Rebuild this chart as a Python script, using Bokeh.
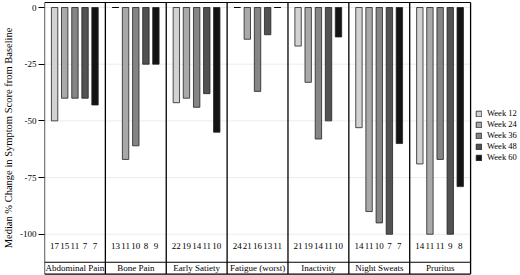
from bokeh.plotting import figure
from bokeh.models import (ColumnDataSource, FixedTicker, Legend, LegendItem)
from bokeh.core.properties import value
from bokeh.embed import file_html
from bokeh.resources import INLINE

categories = ["Abdominal Pain", "Bone Pain", "Early Satiety", "Fatigue (worst)",
              "Inactivity", "Night Sweats", "Pruritus"]
weeks = ["Week 12", "Week 24", "Week 36", "Week 48", "Week 60"]
week12 = [-50, 0, -42, 0, -17, -53, -69]
week24 = [-40, -67, -40, -14, -33, -90, -100]
week36 = [-40, -61, -44, -37, -58, -95, -67]
week48 = [-40, -25, -38, -12, -50, -100, -100]
week60 = [-43, -25, -55, 0, -13, -60, -79]
n12 = [17, 13, 22, 24, 21, 14, 14]
n24 = [15, 11, 19, 21, 19, 11, 11]
n36 = [11, 10, 14, 16, 14, 10, 11]
n48 = [7, 8, 11, 13, 11, 7, 9]
n60 = [7, 9, 10, 11, 10, 7, 8]
y_ticks = [0, -25, -50, -75, -100]

series = [week12, week24, week36, week48, week60]
counts = [n12, n24, n36, n48, n60]
colors = ["#d2d2d2", "#a9a9a9", "#858585", "#525252", "#141414"]
offsets = [-0.334, -0.168, 0.0, 0.166, 0.33]
bar_w = 0.105
FONT = "Liberation Serif"
COUNT_Y = -105.2
STRIP_LINE = -112.35
STRIP_TEXT = -115.0
BOX_TOP = 2.2
BOX_BOTTOM = -117.55

n_cat = len(categories)
centers = [i + 0.5 for i in range(n_cat)]

p = figure(width=520, height=275, x_range=(0, 7.82),
           y_range=(-118.2, 3.09), output_backend="svg",
           toolbar_location=None, min_border_top=0, min_border_bottom=0,
           min_border_left=0, min_border_right=0)
p.outline_line_color = None
p.xaxis.visible = False
p.xgrid.visible = False
p.ygrid.visible = False
p.yaxis.ticker = FixedTicker(ticks=y_ticks)
p.yaxis.major_label_overrides = {t: str(t) for t in y_ticks}
p.yaxis.axis_line_color = None
p.yaxis.major_tick_in = 0
p.yaxis.major_tick_out = 6
p.yaxis.major_tick_line_color = "black"
p.yaxis.minor_tick_line_color = None
p.yaxis.major_label_text_font = FONT
p.yaxis.major_label_text_font_size = "9px"
p.yaxis.major_label_text_color = "black"
p.yaxis.major_label_standoff = 2
p.yaxis.axis_label = "Median % Change in Symptom Score from Baseline"
p.yaxis.axis_label_text_font = FONT
p.yaxis.axis_label_text_font_style = "normal"
p.yaxis.axis_label_text_font_size = "10.5px"
p.yaxis.axis_label_text_color = "black"
p.yaxis.axis_label_standoff = 3

# light grid lines inside the panel box
p.segment(x0=[0] * len(y_ticks), x1=[n_cat] * len(y_ticks), y0=y_ticks, y1=y_ticks,
          line_color="#ececec", line_width=1)

items = []
for wk, vals, ns, col, off in zip(weeks, series, counts, colors, offsets):
    xs = [c + off for c in centers]
    src = ColumnDataSource(dict(x=xs, val=vals, n=[str(v) for v in ns],
                                y=[COUNT_Y] * n_cat))
    r = p.vbar(x="x", top=0, bottom="val", width=bar_w,
               source=src, fill_color=col, line_color="#222222", line_width=0.8)
    items.append(LegendItem(label=wk, renderers=[r]))
    zx = [x for x, v in zip(xs, vals) if v == 0]
    if zx:
        p.segment(x0=[x - bar_w / 2 for x in zx], y0=[0] * len(zx),
                  x1=[x + bar_w / 2 for x in zx], y1=[0] * len(zx),
                  line_color="black", line_width=1)
    p.text(x="x", y="y", text="n", source=src,
           text_font=value(FONT), text_font_size="9px", text_align="center",
           text_baseline="middle", text_color="black")

# panel box: vertical dividers and borders
vx = list(range(0, n_cat + 1))
p.segment(x0=vx, x1=vx, y0=[BOX_BOTTOM] * len(vx), y1=[BOX_TOP] * len(vx),
          line_color="black", line_width=1.3)
p.segment(x0=[0, 0, 0], x1=[n_cat] * 3, y0=[BOX_TOP, STRIP_LINE, BOX_BOTTOM],
          y1=[BOX_TOP, STRIP_LINE, BOX_BOTTOM], line_color="black", line_width=1.2)

strip = ColumnDataSource(dict(x=centers, y=[STRIP_TEXT] * n_cat, t=categories))
p.text(x="x", y="y", text="t", source=strip, text_font=value(FONT),
       text_font_size="9px", text_align="center", text_baseline="middle",
       text_color="black")

legend = Legend(items=items, location=(431, 113), border_line_color=None,
                background_fill_alpha=0, label_text_font=FONT, label_text_font_size="8.5px",
                label_text_color="black", glyph_width=7, glyph_height=7,
                label_standoff=5, spacing=1, padding=1, margin=0,
                label_height=8)
p.add_layout(legend)

open("out.html", "w").write(file_html(p, INLINE))
